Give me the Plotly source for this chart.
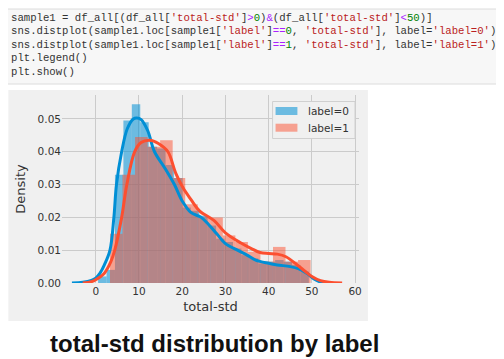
import plotly.graph_objects as go

# ---------------- data ----------------
blue_edges = [0.55, 2.5, 4.45, 6.4, 8.35, 10.3, 12.25, 14.2, 16.15, 18.1, 20.05, 22.0,
              23.95, 25.9, 27.85, 29.8, 31.75, 33.7, 35.65, 37.6, 39.55, 41.5, 43.45,
              45.4, 47.35, 49.3]
blue_density = [0.002, 0.004, 0.033, 0.0495, 0.0545, 0.049, 0.0415, 0.041, 0.036, 0.032,
                0.023, 0.022, 0.0205, 0.0175, 0.0135, 0.0125, 0.0105, 0.0085, 0.0075,
                0.006, 0.0065, 0.007, 0.0065, 0.0055, 0.0035]

red_edges = [3.3, 6.2, 9.1, 12.0, 14.9, 17.8, 20.7, 23.6, 26.5, 29.4, 32.3, 35.2, 38.1,
             41.0, 43.9, 46.8, 49.7]
red_density = [0.015, 0.033, 0.0445, 0.0415, 0.0435, 0.032, 0.024, 0.020, 0.020, 0.0145,
               0.0125, 0.0095, 0.0065, 0.011, 0.0065, 0.007]

blue_kde_x = [-5.5, -3, -1, 0, 1, 2, 3.3, 4.2, 4.8, 6.0, 7.3, 8.7, 9.5, 10.5, 12, 13.6,
              16, 18.2, 20, 22, 24.4, 26, 28, 30, 32.8, 35, 37, 40, 42, 45, 47, 49, 50.5,
              52, 54]
blue_kde_y = [0, 0.0002, 0.0008, 0.0015, 0.003, 0.0055, 0.010, 0.020, 0.030, 0.040, 0.047,
              0.0500, 0.0503, 0.0498, 0.0465, 0.040, 0.035, 0.030, 0.025, 0.0215, 0.020,
              0.018, 0.015, 0.012, 0.010, 0.0085, 0.007, 0.006, 0.0055, 0.005, 0.0043,
              0.0028, 0.0012, 0.0003, 0]

red_kde_x = [-3, -1, 0, 2, 3.5, 4.4, 6.0, 7.2, 9.0, 10.5, 12.5, 14.5, 16.7, 18.5, 20.2, 22,
             24, 27.4, 30, 33.6, 36, 38, 40, 42, 44, 46.6, 48.5, 50, 52, 54, 57]
red_kde_y = [0, 0.0004, 0.001, 0.003, 0.0065, 0.010, 0.020, 0.030, 0.040, 0.0428, 0.0435,
             0.0425, 0.040, 0.0335, 0.029, 0.0255, 0.022, 0.019, 0.0153, 0.0122, 0.0105,
             0.0093, 0.009, 0.0088, 0.008, 0.0055, 0.0035, 0.002, 0.0007, 0.0002, 0]

x_ticks = [0, 10, 20, 30, 40, 50, 60]
y_ticks = [0.00, 0.01, 0.02, 0.03, 0.04, 0.05]
series_names = ["label=0", "label=1"]
x_title = "total-std"
y_title = "Density"
caption = "total-std distribution by label"

# ---------------- style ----------------
# the page body has an 8px margin, so the figure is drawn 8px smaller and
# all reference-pixel positions are shifted by that offset
OFF = 8
W, H = 504 - OFF, 359 - OFF
ML, MT = 60 - OFF, 95 - OFF
PW, PH = 299, 188
MR, MB = W - ML - PW, H - MT - PH
BLUE, RED = "#008fd5", "#fc4f30"
BLUE_FILL, RED_FILL = "rgba(0,143,213,0.55)", "rgba(252,79,48,0.5)"
BG = "#f0f0f0"
TXT = "#333333"


def px2x(rx):
    return (rx - OFF - ML) / PW


def py2y(ry):
    return (H - MB - (ry - OFF)) / PH


def centers(edges):
    return [(a + b) / 2 for a, b in zip(edges[:-1], edges[1:])]


def widths(edges):
    return [b - a for a, b in zip(edges[:-1], edges[1:])]


fig = go.Figure()
fig.add_trace(go.Bar(x=centers(blue_edges), y=blue_density, width=widths(blue_edges),
                     marker=dict(color=BLUE_FILL, line=dict(width=0)),
                     name=series_names[0], showlegend=False))
fig.add_trace(go.Scatter(x=blue_kde_x, y=blue_kde_y, mode="lines",
                         line=dict(color=BLUE, width=3, shape="spline"), showlegend=False))
fig.add_trace(go.Bar(x=centers(red_edges), y=red_density, width=widths(red_edges),
                     marker=dict(color=RED_FILL, line=dict(width=0)),
                     name=series_names[1], showlegend=False))
fig.add_trace(go.Scatter(x=red_kde_x, y=red_kde_y, mode="lines",
                         line=dict(color=RED, width=3, shape="spline"), showlegend=False))

shapes = []
annotations = []

# code cell box
shapes.append(dict(type="rect", xref="paper", yref="paper", layer="below",
                   x0=px2x(5), x1=px2x(501), y0=py2y(84), y1=py2y(9),
                   fillcolor="#f7f7f7", line=dict(color="#dcdcdc", width=1)))
# chart image background
shapes.append(dict(type="rect", xref="paper", yref="paper", layer="below",
                   x0=px2x(6), x1=px2x(368), y0=py2y(321), y1=py2y(90),
                   fillcolor=BG, line=dict(width=0)))

S, N, O = "#BA2121", "#008000", "#AA22FF"


def c(t, col):
    return f"<span style='color:{col}'>{t}</span>"


code_lines = [
    "sample1 = df_all[(df_all[" + c("'total-std'", S) + "]" + c("&gt;", O) + c("0", N) + ")"
    + c("&amp;", O) + "(df_all[" + c("'total-std'", S) + "]" + c("&lt;", O) + c("50", N) + ")]",
    "sns.distplot(sample1.loc[sample1[" + c("'label'", S) + "]" + c("==", O) + c("0", N)
    + ", " + c("'total-std'", S) + "], label=" + c("'label=0'", S) + ")",
    "sns.distplot(sample1.loc[sample1[" + c("'label'", S) + "]" + c("==", O) + c("1", N)
    + ", " + c("'total-std'", S) + "], label=" + c("'label=1'", S) + ")",
    "plt.legend()",
    "plt.show()",
]
code_y = [17.5, 31, 44.5, 58.2, 71.8]
for line, yy in zip(code_lines, code_y):
    annotations.append(dict(text=line, xref="paper", yref="paper", x=px2x(7), y=py2y(yy),
                            xanchor="left", yanchor="middle", showarrow=False,
                            font=dict(family="Liberation Mono", size=10.65, color=TXT)))

# custom legend
shapes.append(dict(type="rect", xref="paper", yref="paper",
                   x0=px2x(272), x1=px2x(355), y0=py2y(138.5), y1=py2y(101.5),
                   fillcolor=BG, line=dict(color="#d0d0d0", width=1)))
for i, (name, fill) in enumerate(zip(series_names, [BLUE_FILL, RED_FILL])):
    cy = 111 + i * 16.7
    shapes.append(dict(type="rect", xref="paper", yref="paper",
                       x0=px2x(275), x1=px2x(297), y0=py2y(cy + 4), y1=py2y(cy - 4),
                       fillcolor=fill, line=dict(width=0)))
    annotations.append(dict(text=name, xref="paper", yref="paper", x=px2x(306), y=py2y(cy),
                            xanchor="left", yanchor="middle", showarrow=False,
                            font=dict(family="DejaVu Sans", size=10.5, color=TXT)))

# caption
annotations.append(dict(text=f"<b>{caption}</b>", xref="paper", yref="paper",
                        x=px2x(214), y=py2y(343), xanchor="center", yanchor="middle",
                        showarrow=False,
                        font=dict(family="Liberation Sans", size=24, color="#111111")))

fig.update_layout(
    width=W, height=H,
    margin=dict(l=ML, r=MR, t=MT, b=MB, pad=0),
    paper_bgcolor="white", plot_bgcolor=BG,
    barmode="overlay",
    shapes=shapes, annotations=annotations,
    font=dict(family="DejaVu Sans", color=TXT),
    xaxis=dict(range=[-7.8, 60.9], tickvals=x_ticks, showgrid=True, gridcolor="#cbcbcb",
               gridwidth=1, zeroline=False, showline=False, ticks="",
               tickfont=dict(size=10.5, color=TXT),
               title=dict(text=x_title, font=dict(size=13, color=TXT), standoff=6)),
    yaxis=dict(range=[0, 0.0573], tickvals=y_ticks, tickformat=".2f", showgrid=True,
               gridcolor="#cbcbcb", gridwidth=1, zeroline=False, showline=False, ticks="",
               tickfont=dict(size=10.5, color=TXT),
               title=dict(text=y_title, font=dict(size=13, color=TXT), standoff=9)),
)

fig.write_html("out.html")
